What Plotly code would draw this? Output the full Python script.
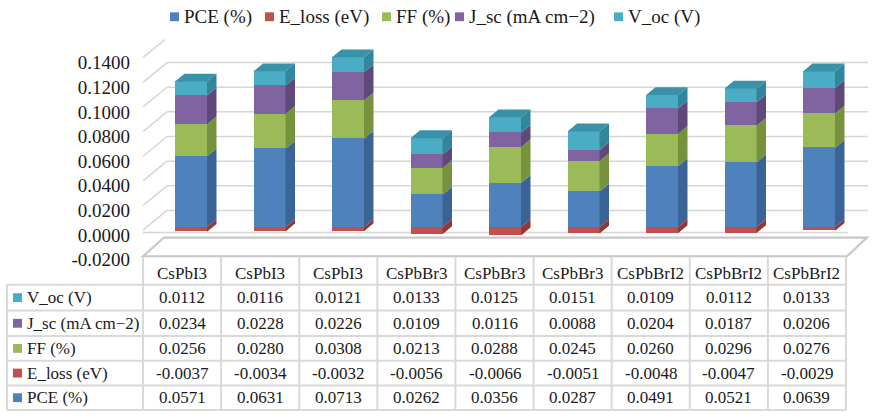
import plotly.graph_objects as go

# ---- data -------------------------------------------------------------
categories = ["CsPbI3", "CsPbI3", "CsPbI3", "CsPbBr3", "CsPbBr3", "CsPbBr3",
              "CsPbBrI2", "CsPbBrI2", "CsPbBrI2"]
pce = [0.0571, 0.0631, 0.0713, 0.0262, 0.0356, 0.0287, 0.0491, 0.0521, 0.0639]
e_loss = [-0.0037, -0.0034, -0.0032, -0.0056, -0.0066, -0.0051, -0.0048, -0.0047, -0.0029]
ff = [0.0256, 0.0280, 0.0308, 0.0213, 0.0288, 0.0245, 0.0260, 0.0296, 0.0276]
j_sc = [0.0234, 0.0228, 0.0226, 0.0109, 0.0116, 0.0088, 0.0204, 0.0187, 0.0206]
v_oc = [0.0112, 0.0116, 0.0121, 0.0133, 0.0125, 0.0151, 0.0109, 0.0112, 0.0133]
series_names = ["PCE (%)", "E_loss (eV)", "FF (%)", "J_sc (mA cm\u22122)", "V_oc (V)"]
y_ticks = [-0.02, 0.0, 0.02, 0.04, 0.06, 0.08, 0.10, 0.12, 0.14]

# ---- styling ----------------------------------------------------------
W, H = 874, 418
FONT = "Times New Roman, Liberation Serif, serif"
TXT = "#1a1a1a"
front_colors = ["#4F81BD", "#C0504D", "#9BBB59", "#8064A2", "#4BACC6"]
side_colors = ["#3A6496", "#943634", "#76923C", "#5F497A", "#31859C"]
top_color = "#3A92A9"
GRID = "#d6d6d6"
TABLE_LINE = "#d9d9d9"


def px(x):
    return x / W


def py(y):
    return 1 - y / H


series = [pce, e_loss, ff, j_sc, v_oc]
n = len(categories)
xs = list(range(n))

# plot-area geometry (pixels)
plot_left, plot_right, plot_top, plot_bottom = 143, 868, 40, 268
bar_step = 78.5                 # pixels per category
first_center = 191
x0 = -(first_center - plot_left) / bar_step
x1 = x0 + (plot_right - plot_left) / bar_step
bar_zero, bar_scale = 230.5, 1260.0    # front-face value scale
wall_zero, wall_scale = 238.5, 1250.0  # back-wall value scale
bar_w = 32 / bar_step
depth_x = 9.5 / bar_step
depth_y = 8 / bar_scale

fig = go.Figure()

# front faces of the stacked columns
for name, vals, col in zip(series_names, series, front_colors):
    fig.add_trace(go.Bar(x=xs, y=vals, name=name, width=bar_w,
                         marker=dict(color=col, line=dict(width=0)),
                         showlegend=False, hoverinfo="skip"))

# side faces (and cap) computed from the stacked segments
pos_base = [0.0] * n
neg_base = [0.0] * n
for k, (vals, scol) in enumerate(zip(series, side_colors)):
    sx, sy = [], []
    for i, v in enumerate(vals):
        if v >= 0:
            b, t = pos_base[i], pos_base[i] + v
            pos_base[i] = t
        else:
            t, b = neg_base[i], neg_base[i] + v
            neg_base[i] = b
        xr = xs[i] + bar_w / 2
        sx += [xr, xr + depth_x, xr + depth_x, xr, xr, None]
        sy += [b, b + depth_y, t + depth_y, t, b, None]
    fig.add_trace(go.Scatter(x=sx, y=sy, mode="lines", fill="toself",
                             fillcolor=scol, line=dict(width=0),
                             showlegend=False, hoverinfo="skip"))
tx, ty = [], []
for i in range(n):
    T = pos_base[i]
    xl, xr = xs[i] - bar_w / 2, xs[i] + bar_w / 2
    tx += [xl, xl + depth_x, xr + depth_x, xr, xl, None]
    ty += [T, T + depth_y, T + depth_y, T, T, None]
fig.add_trace(go.Scatter(x=tx, y=ty, mode="lines", fill="toself",
                         fillcolor=top_color, line=dict(width=0),
                         showlegend=False, hoverinfo="skip"))

# invisible trace so the value axis is laid out
fig.add_trace(go.Scatter(x=[None], y=[None], yaxis="y2", showlegend=False))

shapes = []
# back wall grid with the slanted side-wall segments
for v in [0.02, 0.04, 0.06, 0.08, 0.10, 0.12, 0.14, 0.16]:
    shapes.append(dict(type="line", xref="paper", yref="y2", layer="below",
                       x0=px(167), x1=px(868), y0=v, y1=v,
                       line=dict(color=GRID, width=1.5)))
    shapes.append(dict(type="line", xref="paper", yref="y2", layer="below",
                       x0=px(143), x1=px(167), y0=v - 20 / wall_scale, y1=v,
                       line=dict(color=GRID, width=1.5)))
# floor
shapes.append(dict(type="path", xref="paper", yref="paper", layer="below",
                   path=f"M {px(143)},{py(260)} L {px(164)},{py(241)} L {px(867)},{py(241)} "
                        f"L {px(847)},{py(260)} Z",
                   line=dict(color="#c8c8c8", width=2.2), fillcolor="white"))
shapes.append(dict(type="line", xref="paper", yref="paper", layer="below",
                   x0=px(143), x1=px(848), y0=py(236), y1=py(236),
                   line=dict(color=GRID, width=1.5)))

# data table below the chart
tab_left, tab_head_right, tab_right = 7, 143, 846
col_w = (tab_right - tab_head_right) / n
row_lines = [289, 315, 341, 366, 391, 416]
for yl in row_lines:
    shapes.append(dict(type="line", xref="paper", yref="paper",
                       x0=px(tab_left), x1=px(tab_right), y0=py(yl), y1=py(yl),
                       line=dict(color=TABLE_LINE, width=2)))
shapes.append(dict(type="line", xref="paper", yref="paper",
                   x0=px(tab_left), x1=px(tab_left), y0=py(289), y1=py(416),
                   line=dict(color=TABLE_LINE, width=2)))
for j in range(n + 1):
    xv = tab_head_right + j * col_w
    shapes.append(dict(type="line", xref="paper", yref="paper",
                       x0=px(xv), x1=px(xv), y0=py(261), y1=py(416),
                       line=dict(color=TABLE_LINE, width=2)))

annotations = []
for j, cat in enumerate(categories):
    annotations.append(dict(x=px(tab_head_right + (j + 0.5) * col_w), y=py(277),
                            xref="paper", yref="paper", text=cat, showarrow=False,
                            xanchor="center", yanchor="middle",
                            font=dict(family=FONT, size=17, color=TXT)))

row_order = [4, 3, 2, 1, 0]   # V_oc, J_sc, FF, E_loss, PCE
for r, k in enumerate(row_order):
    yc = (row_lines[r] + row_lines[r + 1]) / 2
    shapes.append(dict(type="rect", xref="paper", yref="paper",
                       x0=px(13), x1=px(22), y0=py(yc - 4.5), y1=py(yc + 4.5),
                       fillcolor=front_colors[k], line=dict(width=0)))
    annotations.append(dict(x=px(25), y=py(yc), xref="paper", yref="paper",
                            text=series_names[k], showarrow=False,
                            xanchor="left", yanchor="middle",
                            font=dict(family=FONT, size=17, color=TXT)))
    for j, v in enumerate(series[k]):
        annotations.append(dict(x=px(tab_head_right + (j + 0.5) * col_w), y=py(yc),
                                xref="paper", yref="paper", text=f"{v:.4f}",
                                showarrow=False, xanchor="center", yanchor="middle",
                                font=dict(family=FONT, size=17, color=TXT)))

# legend across the top
legend_pos = [170, 265, 382, 455, 614]
for k, lx in enumerate(legend_pos):
    shapes.append(dict(type="rect", xref="paper", yref="paper",
                       x0=px(lx), x1=px(lx + 9), y0=py(12.5), y1=py(21.5),
                       fillcolor=front_colors[k], line=dict(width=0)))
    annotations.append(dict(x=px(lx + 12), y=py(17), xref="paper", yref="paper",
                            text=series_names[k], showarrow=False,
                            xanchor="left", yanchor="middle",
                            font=dict(family=FONT, size=19, color=TXT)))

fig.update_layout(
    width=W, height=H, autosize=False,
    margin=dict(l=0, r=0, t=0, b=0),
    paper_bgcolor="white", plot_bgcolor="rgba(0,0,0,0)",
    barmode="relative", bargap=0,
    showlegend=False,
    xaxis=dict(domain=[px(plot_left), px(plot_right)], range=[x0, x1],
               visible=False, fixedrange=True),
    yaxis=dict(domain=[py(plot_bottom), py(plot_top)],
               range=[(bar_zero - plot_bottom) / bar_scale, (bar_zero - plot_top) / bar_scale],
               visible=False, fixedrange=True),
    yaxis2=dict(overlaying="y", side="left", anchor="x",
                range=[(wall_zero - plot_bottom) / wall_scale, (wall_zero - plot_top) / wall_scale],
                tickvals=y_ticks, ticktext=[f"{t:.4f}" for t in y_ticks],
                showgrid=False, zeroline=False, showline=False, ticks="",
                ticklabelstandoff=12,
                tickfont=dict(family=FONT, size=19, color=TXT), fixedrange=True),
    shapes=shapes,
    annotations=annotations,
)

fig.write_html("out.html")
